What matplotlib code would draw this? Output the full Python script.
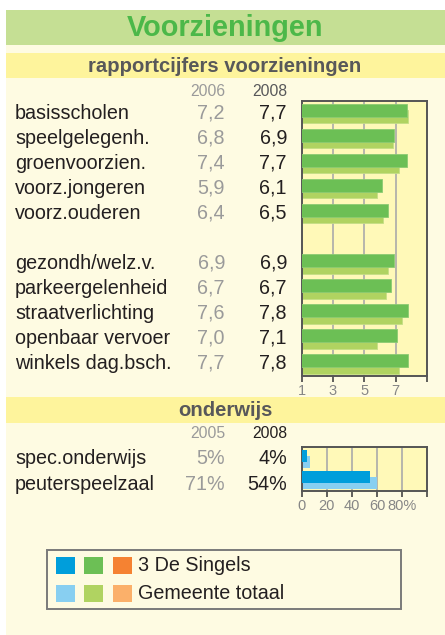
import matplotlib.pyplot as plt
from matplotlib.patches import Rectangle

plt.rcParams['font.family'] = ['Liberation Sans', 'DejaVu Sans']

# rapportcijfers voorzieningen
categories = ["basisscholen", "speelgelegenh.", "groenvoorzien.", "voorz.jongeren", "voorz.ouderen",
              "gezondh/welz.v.", "parkeergelenheid", "straatverlichting", "openbaar vervoer", "winkels dag.bsch."]
score_2006 = [7.2, 6.8, 7.4, 5.9, 6.4, 6.9, 6.7, 7.6, 7.0, 7.7]
score_2008 = [7.7, 6.9, 7.7, 6.1, 6.5, 6.9, 6.7, 7.8, 7.1, 7.8]
score_gemeente = [7.8, 6.8, 7.2, 5.8, 6.2, 6.5, 6.4, 7.4, 5.8, 7.2]
score_ticks = [1, 3, 5, 7]

# onderwijs
edu_labels = ["spec.onderwijs", "peuterspeelzaal"]
edu_2005 = [5, 71]
edu_2008 = [4, 54]
edu_gemeente = [7, 60]
edu_ticks = [0, 20, 40, 60, 80]
edu_ticklabels = ["0", "20", "40", "60", "80%"]

W, H = 445, 635
CREAM = "#FEFBE2"
BAND = "#FEF49C"
TITLE_BG = "#C5DF94"
PLOT_BG = "#FFF9B8"
GREY = "#868686"
DARK = "#58585A"
TEXT = "#231F20"
BLUE, BLUE_L = "#009EDB", "#88CFF1"
GREEN, GREEN_L = "#6CBF55", "#B0D361"
ORANGE, ORANGE_L = "#F58232", "#FBB06A"
FS = 14.2

fig = plt.figure(figsize=(W / 100, H / 100), dpi=100, facecolor="white")


def px_rect(x0, y0, x1, y1):
    return [x0 / W, 1 - y1 / H, (x1 - x0) / W, (y1 - y0) / H]


def fx(x):
    return x / W


def fy(y):
    return 1 - y / H


def box(x0, y0, x1, y1, color, zorder=-10):
    fig.patches.append(Rectangle((fx(x0), fy(y1)), fx(x1) - fx(x0), fy(y0) - fy(y1),
                                 transform=fig.transFigure, facecolor=color, edgecolor="none",
                                 zorder=zorder))


# page, title and section bands
box(6, 10, W, H, CREAM, zorder=-20)
box(6, 10, W, 45, TITLE_BG)
box(6, 53, W, 78, BAND)
box(6, 397, W, 423, BAND)
fig.text(fx(225), fy(28), "Voorzieningen", ha="center", va="center", fontsize=20.8,
         fontweight="bold", color="#4CB849")
fig.text(fx(225), fy(66), "rapportcijfers voorzieningen", ha="center", va="center",
         fontsize=14.6, fontweight="bold", color=DARK)
fig.text(fx(225), fy(410.5), "onderwijs", ha="center", va="center",
         fontsize=14.6, fontweight="bold", color=DARK)


def style_axes(ax, xlim, ticks, ticklabels):
    ax.set_facecolor(PLOT_BG)
    ax.set_xlim(*xlim)
    # extra unlabeled tick at the right edge of the scale
    ax.set_xticks(list(ticks) + [xlim[1]])
    ax.set_xticklabels(list(ticklabels) + [""])
    ax.set_yticks([])
    ax.tick_params(axis="x", length=4, width=1.2, color="#444444", labelsize=10.5,
                   labelcolor=GREY, pad=2)
    for spine in ax.spines.values():
        spine.set_color("#555555")
        spine.set_linewidth(1.4)
    for t in ticks[1:]:
        ax.axvline(t, color="#AAAAAA", linewidth=1.2, zorder=0.5)
    ax.set_axisbelow(True)


# scores chart
rows = [i if i < 5 else i + 1 for i in range(len(categories))]
ax1 = fig.add_axes(px_rect(301.7, 100.7, 427, 376))
ax1.barh([r + 0.14 for r in rows], score_gemeente, height=0.53, color=GREEN_L,
         edgecolor="#C4DE86", linewidth=0.6, zorder=2)
ax1.barh([r - 0.11 for r in rows], score_2008, height=0.51, color=GREEN,
         edgecolor="#8CCB72", linewidth=0.6, zorder=3)
ax1.set_ylim(10.5, -0.5)
style_axes(ax1, (1, 9), score_ticks, [str(t) for t in score_ticks])

fig.text(fx(225), fy(92), "2006", ha="right", va="center", fontsize=11.3, color="#9A9A9A")
fig.text(fx(287), fy(92), "2008", ha="right", va="center", fontsize=11.3, color=DARK)
row_px = 275.3 / 11
for r, name, a, b in zip(rows, categories, score_2006, score_2008):
    y = 100.7 + (r + 0.5) * row_px
    fig.text(fx(15), fy(y), name, ha="left", va="center", fontsize=FS, color=TEXT)
    fig.text(fx(225), fy(y), f"{a:.1f}".replace(".", ","), ha="right", va="center",
             fontsize=FS, color="#9A9A9A")
    fig.text(fx(287), fy(y), f"{b:.1f}".replace(".", ","), ha="right", va="center",
             fontsize=FS, color=TEXT)

# onderwijs chart
ax2 = fig.add_axes(px_rect(301.7, 447.3, 427.3, 490.7))
ax2.barh([i + 0.16 for i in range(2)], edu_gemeente, height=0.55, color=BLUE_L,
         edgecolor="none", zorder=2)
ax2.barh([i - 0.11 for i in range(2)], edu_2008, height=0.55, color=BLUE,
         edgecolor="none", zorder=3)
ax2.set_ylim(1.5, -0.5)
style_axes(ax2, (0, 100), edu_ticks, edu_ticklabels)

fig.text(fx(225), fy(433), "2005", ha="right", va="center", fontsize=11.3, color="#9A9A9A")
fig.text(fx(287), fy(433), "2008", ha="right", va="center", fontsize=11.3, color=TEXT)
for i, (name, a, b) in enumerate(zip(edu_labels, edu_2005, edu_2008)):
    y = 458.5 + i * 25.5
    fig.text(fx(15), fy(y), name, ha="left", va="center", fontsize=FS, color=TEXT)
    fig.text(fx(225), fy(y), f"{a}%", ha="right", va="center", fontsize=FS, color="#9A9A9A")
    fig.text(fx(287), fy(y), f"{b}%", ha="right", va="center", fontsize=FS, color=TEXT)

# legend
fig.patches.append(Rectangle((fx(47), fy(609)), fx(401) - fx(47), fy(550) - fy(609),
                             transform=fig.transFigure, facecolor="none",
                             edgecolor="#7A7A7A", linewidth=1.4))
legend_rows = [((BLUE, GREEN, ORANGE), "3 De Singels", 565.5),
               ((BLUE_L, GREEN_L, ORANGE_L), "Gemeente totaal", 593.7)]
for colors, label, yc in legend_rows:
    for x0, c in zip((56, 84, 112.5), colors):
        box(x0, yc - 8.7, x0 + 19, yc + 8.7, c, zorder=1)
    fig.text(fx(137.5), fy(yc), label, ha="left", va="center", fontsize=FS, color=TEXT)

fig.savefig("out.png", dpi=100, facecolor=fig.get_facecolor())
